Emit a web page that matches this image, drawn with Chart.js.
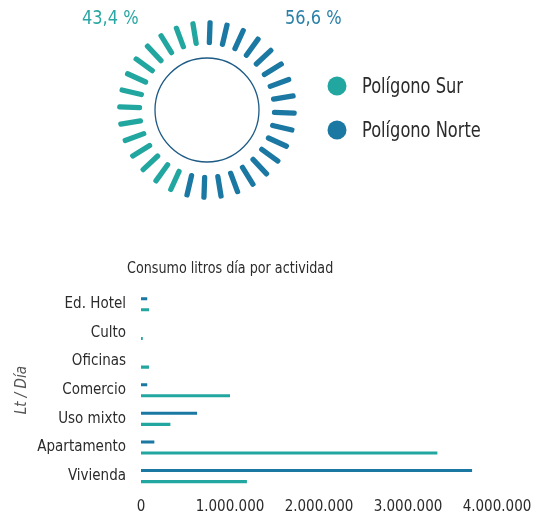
<!DOCTYPE html>
<html>
<head>
<meta charset="utf-8">
<script src="https://cdn.jsdelivr.net/npm/chart.js@4"></script>
<style>
	body { margin: 0; background: #fff; width: 546px; height: 518px; overflow: hidden; }
	#topBox { position: absolute; left: 0; top: 0; width: 546px; height: 230px; }
	#barBox { position: absolute; left: 0; top: 250px; width: 546px; height: 268px; }
</style>
</head>
<body>
<div id="topBox"><canvas id="polyChart"></canvas></div>
<div id="barBox"><canvas id="useChart"></canvas></div>
<script>
/* datos */
const polyLabels = ['Polígono Sur', 'Polígono Norte']
const polyPct = [43.4, 56.6]
const polyColors = ['#22a6a0', '#1a78a2']

const activities = ['Ed. Hotel', 'Culto', 'Oficinas', 'Comercio', 'Uso mixto', 'Apartamento', 'Vivienda']
const norteLt = [70000, 0, 0, 70000, 630000, 150000, 3720000]
const surLt = [90000, 20000, 90000, 1000000, 330000, 3330000, 1190000]
const xTicks = [0, 1000000, 2000000, 3000000, 4000000]

const FONT = '"Liberation Sans Narrow", "DejaVu Sans Condensed", "Roboto", sans-serif'

function ById(id) {
	return document.getElementById(id);
}

function fmtNum(v) {
	return String(v).replace(/\B(?=(\d{3})+(?!\d))/g, '.')
}

// texto estrecho (la fuente original es condensada)
function narrowText(ctx, txt, x, y, sx) {
	ctx.save()
	ctx.translate(x, y)
	ctx.scale(sx, 1)
	ctx.fillText(txt, 0, 0)
	ctx.restore()
}

/***************************** anillo de rayos *****************************/
const rayPlugin = {
	id: 'rays',
	afterDatasetsDraw(chart) {
		const ctx = chart.ctx
		const arc = chart.getDatasetMeta(0).data[0]
		const cx = arc.x, cy = arc.y, R = arc.outerRadius, r = arc.innerRadius
		const lw = 5.3
		ctx.save()
		// solo dentro del anillo
		ctx.beginPath()
		ctx.arc(cx, cy, R + 3, 0, Math.PI * 2)
		ctx.arc(cx, cy, r - 3, 0, Math.PI * 2, true)
		ctx.clip()
		ctx.globalCompositeOperation = 'destination-in'
		ctx.lineWidth = lw
		ctx.lineCap = 'round'
		ctx.strokeStyle = '#000'
		ctx.beginPath()
		for (let k = 0; k < 32; k++) {
			const a = (2 + k * 11.25 - 90) * Math.PI / 180
			ctx.moveTo(cx + (r + lw / 2) * Math.cos(a), cy + (r + lw / 2) * Math.sin(a))
			ctx.lineTo(cx + (R - lw / 2) * Math.cos(a), cy + (R - lw / 2) * Math.sin(a))
		}
		ctx.stroke()
		ctx.restore()

		// circulo interior
		ctx.save()
		ctx.beginPath()
		ctx.arc(cx, cy, 52, 0, Math.PI * 2)
		ctx.lineWidth = 1.3
		ctx.strokeStyle = '#1d5b86'
		ctx.stroke()
		ctx.restore()
	},
	afterDraw(chart) {
		const ctx = chart.ctx
		const ds = chart.data.datasets[0]
		ctx.save()
		// porcentajes
		ctx.font = '20px ' + FONT
		ctx.textAlign = 'left'
		ctx.textBaseline = 'middle'
		ctx.fillStyle = '#2aa7a2'
		narrowText(ctx, String(ds.data[0]).replace('.', ',') + ' %', 82, 19, 0.9)
		ctx.fillStyle = '#2a80a8'
		narrowText(ctx, String(ds.data[1]).replace('.', ',') + ' %', 285, 19, 0.9)
		// leyenda
		ctx.font = '22px ' + FONT
		chart.data.labels.forEach(function(lbl, i) {
			const y = 86 + i * 44
			ctx.beginPath()
			ctx.arc(337, y, 9.5, 0, Math.PI * 2)
			ctx.fillStyle = ds.backgroundColor[i]
			ctx.fill()
			ctx.fillStyle = '#2b2b2b'
			narrowText(ctx, lbl, 362, y + 1, 0.82)
		})
		ctx.restore()
	}
}

function polyChart() {
	const chartArea = ById('polyChart').getContext('2d')
	new Chart(chartArea, {
		type: 'doughnut',
		data: {
			labels: polyLabels,
			datasets: [{
				data: polyPct,
				backgroundColor: polyColors,
				borderWidth: 0
			}]
		},
		options: {
			responsive: true,
			maintainAspectRatio: false,
			animation: false,
			rotation: 197.8,
			cutout: '72%',
			layout: { padding: { left: 117, right: 249, top: 20, bottom: 30 } },
			plugins: {
				legend: { display: false },
				tooltip: { enabled: false }
			}
		},
		plugins: [rayPlugin]
	})
}

/***************************** consumo por actividad *****************************/
const titlePlugin = {
	id: 'barTitle',
	afterDraw(chart) {
		const ctx = chart.ctx
		ctx.save()
		ctx.font = '16px ' + FONT
		ctx.fillStyle = '#2b2b2b'
		ctx.textBaseline = 'middle'
		narrowText(ctx, 'Consumo litros día por actividad', 127, 19, 0.885)
		ctx.restore()
	}
}

function useChart() {
	const chartArea = ById('useChart').getContext('2d')
	new Chart(chartArea, {
		type: 'bar',
		data: {
			labels: activities,
			datasets: [{
				label: 'Polígono Norte',
				data: norteLt,
				backgroundColor: polyColors[1],
				categoryPercentage: 0.77,
				barPercentage: 0.28
			}, {
				label: 'Polígono Sur',
				data: surLt,
				backgroundColor: polyColors[0],
				categoryPercentage: 0.77,
				barPercentage: 0.28
			}]
		},
		options: {
			indexAxis: 'y',
			responsive: true,
			maintainAspectRatio: false,
			animation: false,
			layout: { padding: { top: 40, right: 49, left: 0, bottom: 0 } },
			plugins: {
				legend: { display: false },
				tooltip: { enabled: false }
			},
			scales: {
				x: {
					min: 0,
					max: 4000000,
					afterFit: function(s) { s.height = 27.6 },
					afterBuildTicks: function(s) { s.ticks = xTicks.map(function(v) { return { value: v } }) },
					grid: { display: false, drawTicks: false },
					border: { display: false },
					ticks: {
						padding: 8,
						color: '#2b2b2b',
						font: { family: FONT, size: 15 },
						callback: function(v) { return fmtNum(v) }
					}
				},
				y: {
					afterFit: function(s) { s.width = 141 },
					grid: { display: false, drawTicks: false },
					border: { display: false },
					ticks: {
						padding: 15,
						color: '#2b2b2b',
						font: { family: FONT, size: 15 }
					},
					title: {
						display: true,
						text: 'Lt / Día',
						color: '#555',
						padding: { top: 13, bottom: 0 },
						font: { family: FONT, size: 15, style: 'italic' }
					}
				}
			}
		},
		plugins: [titlePlugin]
	})
}

polyChart()
useChart()
</script>
</body>
</html>
